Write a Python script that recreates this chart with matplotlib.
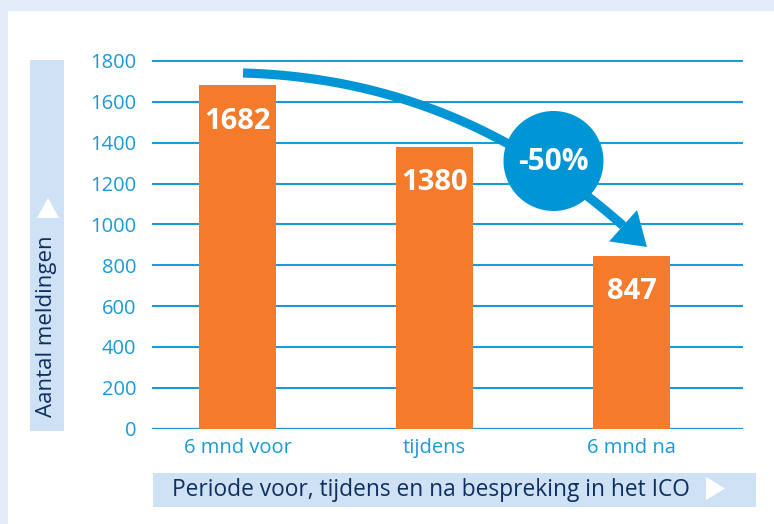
import numpy as np
import matplotlib
matplotlib.use("Agg")
import matplotlib.pyplot as plt
from matplotlib.patches import Rectangle, Polygon, Circle
from matplotlib.transforms import Affine2D

categories = ["6 mnd voor", "tijdens", "6 mnd na"]
values = [1682, 1380, 847]
yticks = [0, 200, 400, 600, 800, 1000, 1200, 1400, 1600, 1800]
ylabel = "Aantal meldingen"
xlabel = "Periode voor, tijdens en na bespreking in het ICO"
change_label = "-50%"

W, H = 774, 524
FONT = ["Open Sans", "DejaVu Sans"]
plt.rcParams['font.family'] = FONT

ORANGE = "#f47a2c"
GRID = "#1a9ad6"
ARROW = "#0096d6"
BOX = "#cfe1f4"
BORDER = "#e4ecf8"
NAVY = "#0e2f5f"

fig = plt.figure(figsize=(W / 100, H / 100), dpi=100, facecolor=BORDER)
pix = Affine2D().scale(1 / W, -1 / H).translate(0, 1) + fig.transFigure

# white panel
fig.add_artist(Rectangle((8, 11), W - 8, H - 11, transform=pix, facecolor="white",
                         edgecolor="none", zorder=-5))

# axes placement in pixels
left, right = 152, 743
y0px, y1800px = 428.5, 61.0
ytop = 1830
ppu = (y0px - y1800px) / 1800
top_px = y0px - ytop * ppu
ax = fig.add_axes([left / W, 1 - y0px / H, (right - left) / W, (y0px - top_px) / H])
ax.set_facecolor("none")

x = np.arange(len(categories))
ax.bar(x, values, width=0.39, color=ORANGE, zorder=3)
ax.set_xlim(-0.434, 2.566)
ax.set_ylim(0, ytop)
ax.set_yticks(yticks)
ax.set_xticks(x)
ax.set_xticklabels(categories)
for s in ax.spines.values():
    s.set_visible(False)
ax.tick_params(axis="both", length=0, colors=GRID, labelsize=14.5)
ax.tick_params(axis="y", pad=11.5)
ax.tick_params(axis="x", pad=7)
for yt in yticks:
    ax.axhline(yt, color=GRID, lw=1.5 if yt else 2.4, zorder=1)

for xi, v in zip(x, values):
    ax.annotate(str(v), (xi, v), xytext=(0, -26), textcoords="offset points",
                ha="center", va="center", color="white", fontsize=21,
                fontweight="bold", zorder=4)

# y label box
fig.add_artist(Rectangle((30, 60), 34, 371, transform=pix, facecolor=BOX, edgecolor="none"))
fig.add_artist(Polygon([(37, 218), (59, 218), (48, 198)], closed=True, transform=pix,
                       facecolor="white", edgecolor="none"))
fig.text(47 / W, 1 - 326 / H, ylabel, rotation=90, ha="center", va="center",
         color=NAVY, fontsize=16)

# x label box
fig.add_artist(Rectangle((153, 473), 603, 34, transform=pix, facecolor=BOX, edgecolor="none"))
fig.add_artist(Polygon([(706, 477), (706, 500), (725, 488.5)], closed=True, transform=pix,
                       facecolor="white", edgecolor="none"))
fig.text(172 / W, 1 - 490 / H, xlabel, ha="left", va="center", color=NAVY, fontsize=16.4)

# curved arrow (pixel geometry)
P0 = np.array([243.0, 73.0])
C = np.array([458.0, 79.0])
tip = np.array([647.0, 247.0])
d = (tip - C) / np.linalg.norm(tip - C)
nrm = np.array([-d[1], d[0]])
base = tip - 32 * d
t = np.linspace(0, 1, 100)[:, None]
curve = (1 - t) ** 2 * P0 + 2 * (1 - t) * t * C + t ** 2 * base
line = plt.Line2D(curve[:, 0], curve[:, 1], transform=pix, color=ARROW, lw=6.6,
                  solid_capstyle="butt", zorder=5)
fig.add_artist(line)
fig.add_artist(Polygon([tip, base + 21 * nrm, base - 21 * nrm], closed=True, transform=pix,
                       facecolor=ARROW, edgecolor="none", zorder=5))
fig.add_artist(Circle((553.5, 161), 50, transform=pix, facecolor=ARROW, edgecolor="none", zorder=6))
fig.text(553.5 / W, 1 - 162 / H, change_label, ha="center", va="center", color="white",
         fontsize=21.5, fontweight="bold", zorder=7)

fig.savefig("out.png", dpi=100, facecolor=BORDER)
